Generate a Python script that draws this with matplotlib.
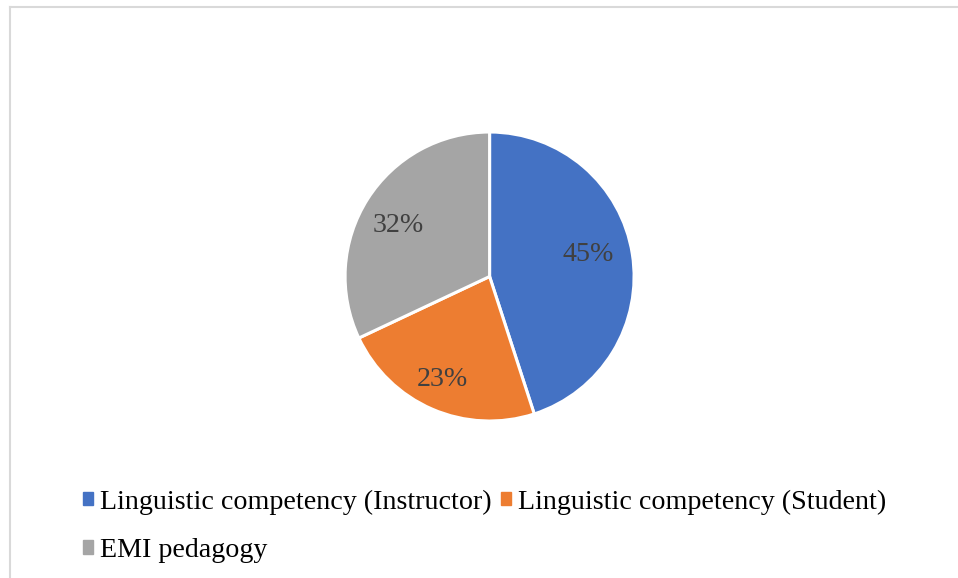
import matplotlib.pyplot as plt
from matplotlib.patches import Patch
from matplotlib.lines import Line2D

# data
labels = ["Linguistic competency (Instructor)",
          "Linguistic competency (Student)",
          "EMI pedagogy"]
shares = [45, 23, 32]
colors = ["#4472C4", "#ED7D31", "#A5A5A5"]

plt.rcParams['font.family'] = ['Liberation Serif', 'DejaVu Serif']

fig = plt.figure(figsize=(9.58, 5.78), dpi=100)

# thin grey frame (only left and top visible in the crop)
fig.add_artist(Line2D([9.5 / 958, 9.5 / 958], [0, 1 - 6.5 / 578], color="#D9D9D9", lw=1.5))
fig.add_artist(Line2D([9.5 / 958, 1], [1 - 6.5 / 578, 1 - 6.5 / 578], color="#D9D9D9", lw=1.5))

ax = fig.add_axes([0.3602, 0.2716, 0.3017, 0.5])
wedges, texts, autotexts = ax.pie(
    shares, colors=colors, startangle=90, counterclock=False,
    autopct="%d%%", pctdistance=0.72,
    wedgeprops=dict(edgecolor="white", linewidth=2.2),
    textprops=dict(color="#404040", fontsize=20.2))
ax.set_xlim(-1, 1)
ax.set_ylim(-1, 1)

# excel-style "best fit" label spots (radius units)
label_pos = [(0.68, 0.155), (-0.329, -0.713), (-0.633, 0.356)]
for t, p in zip(autotexts, label_pos):
    t.set_position(p)

# legend: flow order blue, orange / grey
handles = [Patch(color=c) for c in colors]
order = [0, 2, 1]
fig.legend([handles[i] for i in order], [labels[i] for i in order],
           ncol=2, loc="upper left", bbox_to_anchor=(0.0864, 0.153),
           frameon=False, fontsize=20.2,
           handlelength=0.36, handleheight=0.36, handletextpad=0.26,
           columnspacing=0.33, labelspacing=0.83, borderpad=0, borderaxespad=0)

fig.savefig("out.png", dpi=100)
